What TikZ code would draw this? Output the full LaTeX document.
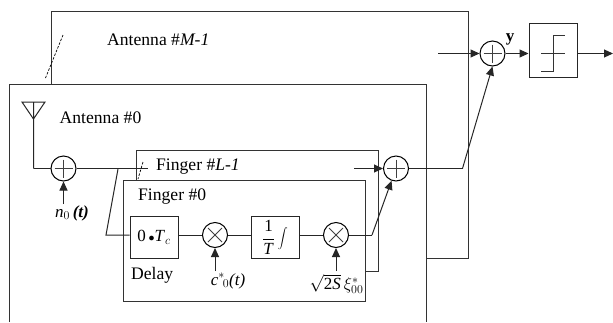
\documentclass[tikz,border=0pt]{standalone}
\usepackage{fontspec}
\setmainfont{Liberation Serif}
\usetikzlibrary{arrows.meta,calc}
\tikzset{
  wire/.style={line width=1pt,draw=black!85},
  arr/.style={wire,-{Triangle[length=9pt,width=8pt]}},
  frame/.style={line width=1pt,draw=black!80},
  dashline/.style={line width=0.7pt,dash pattern=on 2.5pt off 1.5pt},
  blockbox/.style={draw=black!85,line width=1pt,minimum width=48pt,minimum height=42pt,inner sep=0pt,font=\fontsize{17}{19}\selectfont},
  roundel/.style={circle,draw=black,line width=1pt,minimum size=25pt,inner sep=0pt},
  lab/.style={inner sep=0pt,font=\fontsize{17.6}{20}\selectfont,anchor=west},
  sublab/.style={inner sep=0pt,font=\fontsize{17}{19}\selectfont}
}
\newcommand{\plusin}[1]{\draw[line width=0.7pt,black!75] ($(#1)+(-9,0)$)--($(#1)+(9,0)$) ($(#1)+(0,-9)$)--($(#1)+(0,9)$);}
\newcommand{\timesin}[1]{\draw[line width=0.8pt,black!75] ($(#1)+(-7,-7)$)--($(#1)+(7,7)$) ($(#1)+(-7,7)$)--($(#1)+(7,-7)$);}
\begin{document}
\begin{tikzpicture}[x=1pt,y=-1pt]
\path[use as bounding box,fill=white] (0,0) rectangle (613,322);
% frames
\coordinate (bm1) at (51.5,84.5);
\coordinate (bm2) at (51.5,11.5);
\coordinate (bm3) at (468.5,11.5);
\coordinate (bm4) at (468.5,258.5);
\coordinate (bm5) at (426.5,258.5);
\draw[frame] (bm1)--(bm2)--(bm3)--(bm4)--(bm5);
\coordinate (a1) at (9.5,322);
\coordinate (a2) at (9.5,84.5);
\coordinate (a3) at (426.5,84.5);
\coordinate (a4) at (426.5,322);
\draw[frame] (a1)--(a2)--(a3)--(a4);
\coordinate (f1) at (136.5,180.5);
\coordinate (f2) at (136.5,150.5);
\coordinate (f3) at (378.5,150.5);
\coordinate (f4) at (378.5,271.5);
\coordinate (f5) at (365.5,271.5);
\draw[frame] (f1)--(f2)--(f3)--(f4)--(f5);
\node[draw=black!80,line width=1pt,minimum width=242pt,minimum height=121pt,inner sep=0pt] (finger0) at (244.5,241) {};
% dashed
\coordinate (dm1) at (63,35);
\coordinate (dm2) at (45.5,78);
\draw[dashline] (dm1)--(dm2);
\coordinate (dl1) at (143,162);
\coordinate (dl2) at (138,179);
\draw[dashline] (dl1)--(dl2);
% labels
\node[lab] (tm) at (107,39.5) {Antenna \#\textit{M-1}};
\node[lab] (t0) at (59.5,118) {Antenna \#0};
\node[lab] (tl) at (156,166.5) {Finger \#\textit{L-1}};
\node[lab] (tf) at (138,196.5) {Finger \#0};
\node[lab] (td) at (131,275.5) {Delay};
% antenna
\coordinate (ant1) at (22,102);
\coordinate (ant2) at (45,102);
\coordinate (ant3) at (33.5,119);
\coordinate (ant4) at (33.5,102);
\coordinate (ant5) at (33.5,168.5);
\draw[wire] (ant1)--(ant2)--(ant3)--cycle (ant4)--(ant5);
% nodes
\node[roundel] (s0) at (63.5,168.5) {};
\node[roundel] (m1) at (215,235) {};
\node[roundel] (m2) at (336,235) {};
\node[roundel] (s1) at (396,168.5) {};
\node[roundel] (s2) at (492.5,53.5) {};
\plusin{s0}\plusin{s1}\plusin{s2}\timesin{m1}\timesin{m2}
\node[blockbox] (delay) at (154,237.5) {\raisebox{-1pt}{0\,${\scriptstyle\bullet}$\textit{T}$_{c}$}};
\node[blockbox] (integ) at (275,237.5) {$\displaystyle\frac{\mbox{1}}{\mbox{\textit{T}}}\int$};
\node[draw=black!85,line width=1pt,minimum width=48pt,minimum height=54pt,inner sep=0pt] (dec) at (553,50.5) {};
\coordinate (st1) at (541,71.5);
\coordinate (st2) at (553.5,71.5);
\coordinate (st3) at (553.5,35.5);
\coordinate (st4) at (565,35.5);
\coordinate (st5) at (541,53.5);
\coordinate (st6) at (565,53.5);
\draw[line width=0.8pt,black!80] (st1)--(st2)--(st3)--(st4) (st5)--(st6);
% labels with arrows
\node[sublab,anchor=center] (n0) at (72,213) {\textit{n}$_0$\,\textbf{\textit{(t)}}};
\coordinate (n0a) at (63.5,204);
\draw[arr] (n0a)--(s0.south);
\node[sublab,anchor=center] (cl) at (228,281) {\textit{c}$^*{}_{\!0}$\textit{(t)}};
\coordinate (m1a) at (215,271);
\draw[arr] (m1a)--(m1.south);
\node[sublab,anchor=center] (sq) at (336.5,284) {$\sqrt{\mbox{2\textit{S}}}\,\xi_{00}^*$};
\coordinate (m2a) at (336,271);
\draw[arr] (m2a)--(m2.south);
% wires
\coordinate (sc) at (118,169);
\coordinate (se) at (148,168.5);
\coordinate (d0) at (106,235);
\draw[wire] (ant5)--(s0.west) (s0.east)--(se);
\draw[wire] (sc)--(d0)--(d0-|delay.west);
\draw[wire] (delay.east|-m1)--(m1.west) (m1.east)--(integ.west|-m1) (integ.east|-m2)--(m2.west);
\coordinate (k1) at (372,235);
\draw[wire] (m2.east)--(k1);
\draw[arr] (k1)--(s1.250);
\coordinate (s1i) at (354,168.5);
\draw[arr] (s1i)--(s1.west);
\coordinate (k2) at (462.5,168.5);
\draw[wire] (s1.east)--(k2);
\draw[arr] (k2)--(s2.south);
\coordinate (s2i) at (438,53.5);
\draw[arr] (s2i)--(s2.west);
\draw[arr] (s2.east)--(dec.west|-s2);
\coordinate (out) at (613,53.5);
\draw[arr] (dec.east|-s2)--(out);
\node[inner sep=0pt,font=\bfseries\fontsize{17}{19}\selectfont] (y) at (510,39) {y};
\end{tikzpicture}
\end{document}
